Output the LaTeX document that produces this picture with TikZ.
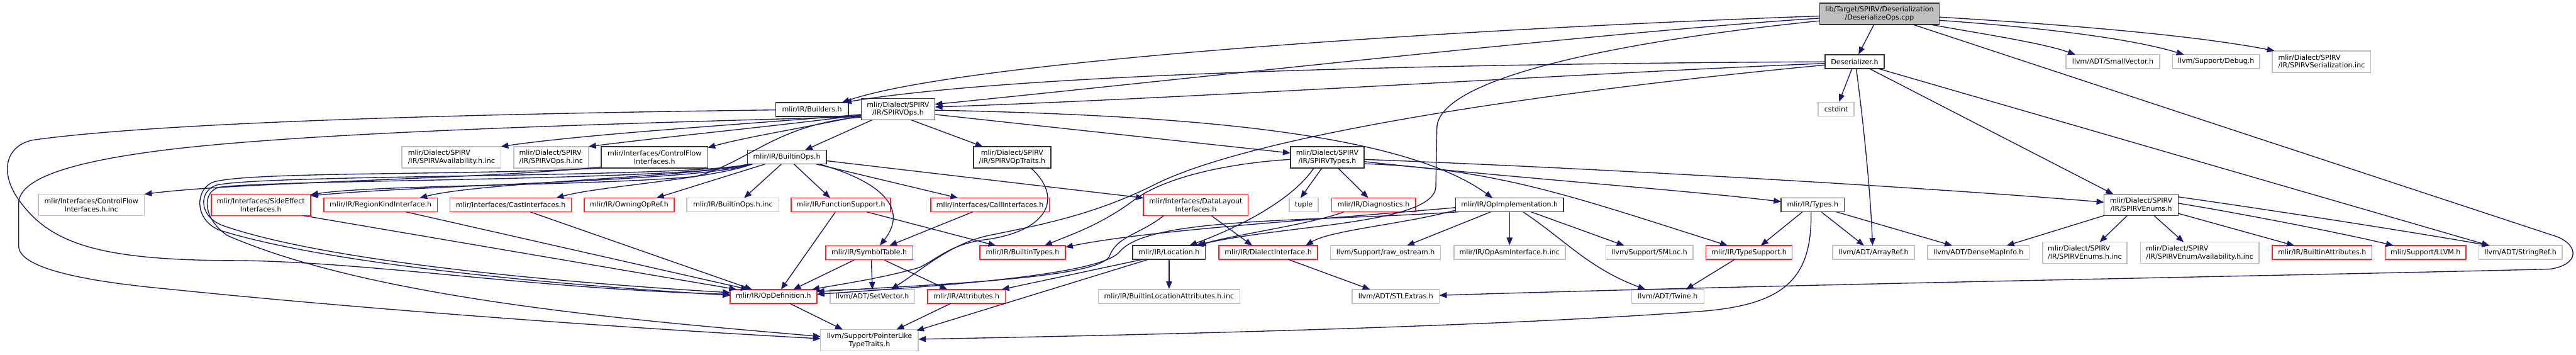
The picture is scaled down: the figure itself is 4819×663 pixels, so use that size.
\documentclass[tikz,border=0pt]{standalone}
\usepackage{fontspec}
\usetikzlibrary{arrows.meta,calc}
\newfontfamily\dvsans{DejaVu Sans}
\newcommand\graphfont{\dvsans\fontsize{13pt}{15pt}\selectfont}
\definecolor{edgeblue}{HTML}{191970}
\definecolor{nodered}{HTML}{FF2020}
\definecolor{nodegray}{HTML}{BFBFBF}
\tikzset{
  box/.style={rectangle, inner sep=0pt, align=center, font=\graphfont, line width=1.8pt, text=black},
  blk/.style={box, draw=black!80},
  rd/.style={box, draw=nodered},
  gr/.style={box, draw=nodegray},
  rootbox/.style={box, draw=black!80, fill=nodegray},
  lft/.style={align=left},
  e/.style={draw=edgeblue, line width=1.6pt, -{Triangle[length=14pt,width=11pt]}},
}
\begin{document}
\begin{tikzpicture}[x=1pt,y=-1pt]
\fill[white] (0,0) rectangle (4819,663);
\useasboundingbox (0,0) rectangle (4819,663);

% ---------- nodes ----------
\node[rootbox, minimum width=224pt, minimum height=40pt] (A) at (3516,26) {lib/Target/SPIRV/Deserialization\\/DeserializeOps.cpp};
\node[blk, minimum width=111pt, minimum height=26pt] (Ds) at (3469.5,115.5) {Deserializer.h};
\node[gr, minimum width=175pt, minimum height=26pt] (SV) at (3952.5,115) {llvm/ADT/SmallVector.h};
\node[gr, minimum width=163pt, minimum height=26pt] (Dbg) at (4145.5,115) {llvm/Support/Debug.h};
\node[gr, lft, minimum width=184pt, minimum height=40pt] (Ser) at (4343,115) {mlir/Dialect/SPIRV\\/IR/SPIRVSerialization.inc};
\node[gr, minimum width=67pt, minimum height=26pt] (Cst) at (3435,204) {cstdint};
\node[blk, minimum width=136pt, minimum height=26pt] (Bld) at (1519,204.5) {mlir/IR/Builders.h};
\node[blk, minimum width=138pt, minimum height=40pt] (B) at (1680,204) {mlir/Dialect/SPIRV\\/IR/SPIRVOps.h};

\node[gr, lft, minimum width=185pt, minimum height=40pt] (Av) at (844.5,294) {mlir/Dialect/SPIRV\\/IR/SPIRVAvailability.h.inc};
\node[gr, lft, minimum width=140pt, minimum height=40pt] (OpsInc) at (1031,294) {mlir/Dialect/SPIRV\\/IR/SPIRVOps.h.inc};
\node[blk, minimum width=199pt, minimum height=40pt] (CF) at (1224.5,294) {mlir/Interfaces/ControlFlow\\Interfaces.h};
\node[blk, minimum width=148pt, minimum height=26pt] (C) at (1472,293.5) {mlir/IR/BuiltinOps.h};
\node[blk, minimum width=145pt, minimum height=40pt] (OT) at (1893.5,294) {mlir/Dialect/SPIRV\\/IR/SPIRVOpTraits.h};
\node[blk, minimum width=138pt, minimum height=40pt] (T) at (2483,294) {mlir/Dialect/SPIRV\\/IR/SPIRVTypes.h};

\node[gr, minimum width=198pt, minimum height=40pt] (CFinc) at (171,383) {mlir/Interfaces/ControlFlow\\Interfaces.h.inc};
\node[rd, minimum width=186pt, minimum height=40pt] (SE) at (488,383) {mlir/Interfaces/SideEffect\\Interfaces.h};
\node[rd, minimum width=212pt, minimum height=26pt] (RK) at (712,383) {mlir/IR/RegionKindInterface.h};
\node[rd, minimum width=227pt, minimum height=26pt] (Cast) at (955.5,383) {mlir/Interfaces/CastInterfaces.h};
\node[rd, minimum width=168pt, minimum height=26pt] (Own) at (1177,383) {mlir/IR/OwningOpRef.h};
\node[gr, minimum width=172pt, minimum height=26pt] (BOinc) at (1371,383) {mlir/IR/BuiltinOps.h.inc};
\node[rd, minimum width=186pt, minimum height=26pt] (FS) at (1573,383) {mlir/IR/FunctionSupport.h};
\node[rd, minimum width=222pt, minimum height=26pt] (Call) at (1852,383) {mlir/Interfaces/CallInterfaces.h};
\node[rd, minimum width=196pt, minimum height=40pt] (DL) at (2237,383) {mlir/Interfaces/DataLayout\\Interfaces.h};
\node[gr, minimum width=54pt, minimum height=26pt] (Tup) at (2439,383) {tuple};
\node[rd, minimum width=157pt, minimum height=26pt] (Diag) at (2569.5,383) {mlir/IR/Diagnostics.h};
\node[blk, minimum width=202pt, minimum height=26pt] (E) at (2824,383) {mlir/IR/OpImplementation.h};
\node[blk, minimum width=118pt, minimum height=26pt] (Ty) at (3391,383) {mlir/IR/Types.h};
\node[blk, minimum width=139pt, minimum height=40pt] (En) at (4005.5,383) {mlir/Dialect/SPIRV\\/IR/SPIRVEnums.h};

\node[rd, minimum width=163pt, minimum height=26pt] (ST) at (1626,472.5) {mlir/IR/SymbolTable.h};
\node[rd, minimum width=160pt, minimum height=26pt] (BT) at (1913,472) {mlir/IR/BuiltinTypes.h};
\node[blk, minimum width=136pt, minimum height=26pt] (Loc) at (2187,472) {mlir/IR/Location.h};
\node[rd, minimum width=185pt, minimum height=26pt] (DI) at (2372.5,472) {mlir/IR/DialectInterface.h};
\node[gr, minimum width=206pt, minimum height=26pt] (Raw) at (2592,472) {llvm/Support/raw\_ostream.h};
\node[gr, minimum width=208pt, minimum height=26pt] (Asm) at (2824,472) {mlir/IR/OpAsmInterface.h.inc};
\node[gr, minimum width=163pt, minimum height=26pt] (SM) at (3085.5,472) {llvm/Support/SMLoc.h};
\node[rd, minimum width=161pt, minimum height=26pt] (TS) at (3272,472) {mlir/IR/TypeSupport.h};
\node[gr, minimum width=153pt, minimum height=26pt] (AR) at (3505,472) {llvm/ADT/ArrayRef.h};
\node[gr, minimum width=190pt, minimum height=26pt] (DM) at (3701,472) {llvm/ADT/DenseMapInfo.h};
\node[gr, lft, minimum width=158pt, minimum height=40pt] (EnInc) at (3900,472.5) {mlir/Dialect/SPIRV\\/IR/SPIRVEnums.h.inc};
\node[gr, lft, minimum width=222pt, minimum height=40pt] (EnAv) at (4115,472.5) {mlir/Dialect/SPIRV\\/IR/SPIRVEnumAvailability.h.inc};
\node[rd, minimum width=186pt, minimum height=26pt] (BA) at (4344,472) {mlir/IR/BuiltinAttributes.h};
\node[rd, minimum width=151pt, minimum height=26pt] (LLVM) at (4537.5,472) {mlir/Support/LLVM.h};
\node[gr, minimum width=156pt, minimum height=26pt] (SR) at (4715,472) {llvm/ADT/StringRef.h};

\node[rd, minimum width=162pt, minimum height=26pt] (OD) at (1447,554) {mlir/IR/OpDefinition.h};
\node[gr, minimum width=158pt, minimum height=26pt] (SetV) at (1632,554) {llvm/ADT/SetVector.h};
\node[rd, minimum width=145pt, minimum height=26pt] (Attr) at (1808,554) {mlir/IR/Attributes.h};
\node[gr, minimum width=265pt, minimum height=26pt] (BLA) at (2187,554) {mlir/IR/BuiltinLocationAttributes.h.inc};
\node[gr, minimum width=163pt, minimum height=26pt] (STL) at (2611,554) {llvm/ADT/STLExtras.h};
\node[gr, minimum width=135pt, minimum height=26pt] (Tw) at (3120,554) {llvm/ADT/Twine.h};

\node[gr, minimum width=183pt, minimum height=40pt] (PL) at (1626.5,636) {llvm/Support/PointerLike\\TypeTraits.h};

% ---------- edges ----------
% DeserializeOps.cpp
\draw[e] (A) -- (Ds);
\draw[e] ($(A)+(-112,4)$) .. controls (2700,55) and (1800,115) .. ($(Bld)+(56,-13)$);
\draw[e] ($(A)+(-112,8)$) .. controls (3000,60) and (2200,150) .. ($(B)+(69,-9)$);
\draw[e] ($(A)+(-112,13)$) .. controls (3000,80) and (2688,150) .. (2688,240) -- (2686,350) .. controls (2680,420) and (2400,420) .. ($(Loc)+(50,-13)$);
\draw[e] ($(A)+(96,20)$) .. controls (3700,62) and (3820,80) .. ($(SV)+(-70,-13)$);
\draw[e] ($(A)+(112,12)$) .. controls (3800,50) and (3980,70) .. ($(Dbg)+(-60,-13)$);
\draw[e] ($(A)+(112,6)$) .. controls (3850,45) and (4100,65) .. ($(Ser)+(-88,-20)$);
\draw[e] ($(A)+(63,20)$) -- (4785,443) .. controls (4825,460) and (4825,495) .. (4770,503) .. controls (4300,515) and (3400,530) .. ($(STL)+(81.5,-2)$);

% Deserializer.h
\draw[e] ($(Ds)+(-55.5,0)$) .. controls (2900,118) and (1950,130) .. ($(Bld)+(60,-13)$);
\draw[e] ($(Ds)+(-55.5,3)$) .. controls (3000,135) and (2200,185) .. ($(B)+(69,-4)$);
\draw[e] ($(Ds)+(-55.5,6)$) .. controls (2900,170) and (2350,250) .. (2160,345) .. controls (2050,400) and (1950,420) .. (1850,440) .. controls (1780,455) and (1730,500) .. ($(SetV)+(35,-13)$);
\draw[e] (Ds) -- (Cst);
\draw[e] ($(Ds)+(3,13)$) .. controls (3490,260) and (3500,380) .. ($(AR)+(-2,-13)$);
\draw[e] ($(Ds)+(28,13)$) -- ($(En)+(-52,-20)$);
\draw[e] ($(Ds)+(45,13)$) -- ($(SR)+(-58,-13)$);

% Builders.h
\draw[e] ($(Bld)+(-68,1)$) .. controls (700,215) and (250,235) .. (60,262) .. controls (5,275) and (0,330) .. (40,380) .. controls (100,460) and (200,487) .. (446,487) .. controls (700,490) and (1000,540) .. ($(OD)+(-81,-4)$);

% SPIRVOps.h
\draw[e] ($(B)+(-69,10)$) .. controls (1400,232) and (1100,250) .. ($(Av)+(92.5,-20)$);
\draw[e] ($(B)+(-69,11)$) .. controls (1450,236) and (1250,255) .. ($(OpsInc)+(70,-20)$);
\draw[e] ($(B)+(-69,12)$) .. controls (1500,240) and (1400,255) .. ($(CF)+(99.5,-18)$);
\draw[e] ($(B)+(-48,20)$) -- ($(C)+(34,-13)$);
\draw[e] ($(B)+(24,20)$) -- ($(OT)+(-55,-20)$);
\draw[e] ($(B)+(69,10)$) -- ($(T)+(-69,-8)$);
\draw[e] ($(B)+(69,2)$) .. controls (2200,215) and (2620,245) .. ($(E)+(-32,-13)$);
\draw[e] ($(B)+(-69,15)$) .. controls (1450,232) and (1400,305) .. (1300,330) .. controls (1100,348) and (700,345) .. ($(SE)+(93,-19)$);
\draw[e] ($(B)+(-69,14)$) .. controls (1200,230) and (600,245) .. (312,280) .. controls (150,300) and (35,330) .. (35,380) -- (35,460) .. controls (35,500) and (150,525) .. (312,540) .. controls (700,580) and (1200,615) .. ($(PL)+(-91.5,-3)$);

% ControlFlowInterfaces.h
\draw[e] ($(CF)+(-99.5,18)$) .. controls (900,335) and (450,340) .. ($(CFinc)+(99,-20)$);
\draw[e] ($(CF)+(-99.5,20)$) .. controls (900,328) and (470,320) .. (400,340) .. controls (365,352) and (362,410) .. (410,430) .. controls (600,490) and (1000,530) .. ($(OD)+(-81,-2)$);

% BuiltinOps.h
\draw[e] ($(C)+(-72,13)$) .. controls (1320,330) and (900,340) .. ($(RK)+(73,-13)$);
\draw[e] ($(C)+(-64,13)$) .. controls (1330,335) and (1120,348) .. ($(Cast)+(85,-13)$);
\draw[e] ($(C)+(-40,13)$) -- ($(Own)+(51,-13)$);
\draw[e] ($(C)+(-10,13)$) -- ($(BOinc)+(21,-13)$);
\draw[e] ($(C)+(13,13)$) -- ($(FS)+(-20,-13)$);
\draw[e] ($(C)+(54,13)$) -- ($(Call)+(-60,-13)$);
\draw[e] ($(C)+(74,7)$) -- ($(DL)+(-98,-13)$);
\draw[e] ($(C)+(60,13)$) .. controls (1650,340) and (1700,390) .. ($(ST)+(20,-13.5)$);
\draw[e] ($(C)+(-68,13)$) .. controls (1330,338) and (800,345) .. ($(SE)+(93,-17)$);
\draw[e] ($(C)+(-70,13)$) .. controls (1300,333) and (500,325) .. (405,346) .. controls (372,356) and (370,405) .. (418,422) .. controls (600,485) and (1000,525) .. ($(OD)+(-81,-7)$);
\draw[e] ($(C)+(-66,13)$) .. controls (1300,338) and (520,335) .. (410,350) .. controls (378,358) and (378,408) .. (425,440) .. controls (700,560) and (1200,600) .. ($(PL)+(-91.5,-7)$);

% second row into OpDefinition etc.
\draw[e] ($(SE)+(79,20)$) -- ($(OD)+(-69,-13)$);
\draw[e] ($(RK)+(47,13)$) -- ($(OD)+(-47,-13)$);
\draw[e] ($(Cast)+(36,13)$) -- ($(OD)+(-40,-13)$);
\draw[e] ($(FS)+(-10,13)$) -- ($(OD)+(14,-13)$);
\draw[e] ($(FS)+(48,13)$) -- ($(BT)+(-50,-13)$);
\draw[e] ($(Call)+(-32,13)$) -- ($(ST)+(38,-13.5)$);
\draw[e] ($(ST)+(-28,13.5)$) -- ($(OD)+(37,-13)$);
\draw[e] ($(ST)+(4,13.5)$) -- ($(SetV)+(0,-13)$);
\draw[e] ($(ST)+(28,13.5)$) -- ($(Attr)+(-36,-13)$);
\draw[e] ($(OT)+(35,20)$) .. controls (1990,370) and (1960,430) .. (1850,447) .. controls (1780,455) and (1760,480) .. (1720,500) .. controls (1650,520) and (1580,530) .. ($(OD)+(72,-13)$);
\draw[e] ($(DL)+(29,20)$) -- ($(DI)+(-30,-13)$);
\draw[e] ($(DL)+(-60,20)$) .. controls (2130,440) and (2090,440) .. (2075,480) .. controls (2050,520) and (1750,532) .. ($(OD)+(81,-9)$);

% SPIRVTypes.h
\draw[e] ($(T)+(-69,4)$) .. controls (2300,305) and (2180,330) .. (2120,375) .. controls (2060,420) and (2000,440) .. ($(BT)+(41,-13)$);
\draw[e] ($(T)+(-25,20)$) .. controls (2420,370) and (2330,420) .. ($(Loc)+(38,-13)$);
\draw[e] ($(T)+(-10,20)$) -- ($(Tup)+(-6,-13)$);
\draw[e] ($(T)+(20,20)$) -- ($(Diag)+(-10,-13)$);
\draw[e] ($(T)+(69,8)$) .. controls (2800,330) and (3150,355) .. ($(Ty)+(-59,-6)$);
\draw[e] ($(T)+(69,12)$) .. controls (2800,315) and (2950,370) .. ($(TS)+(-40,-13)$);
\draw[e] ($(T)+(69,4)$) .. controls (3000,315) and (3600,350) .. ($(En)+(-69.5,-5)$);
\draw[e] ($(Diag)+(-55,13)$) .. controls (2450,420) and (2300,440) .. ($(Loc)+(55,-13)$);

% OpImplementation.h
\draw[e] ($(E)+(-95,13)$) .. controls (2450,415) and (2150,405) .. (2095,470) .. controls (2060,515) and (1750,535) .. ($(OD)+(81,-4)$);
\draw[e] ($(E)+(-101,5)$) .. controls (2450,412) and (2150,430) .. ($(BT)+(80,-10)$);
\draw[e] ($(E)+(-101,10)$) .. controls (2620,420) and (2490,430) .. ($(DI)+(70,-13)$);
\draw[e] ($(E)+(-35,13)$) -- ($(Raw)+(40,-13)$);
\draw[e] (E) -- (Asm);
\draw[e] ($(E)+(40,13)$) -- ($(SM)+(-47,-13)$);
\draw[e] ($(E)+(25,13)$) .. controls (2930,450) and (2970,500) .. ($(Tw)+(-42,-13)$);

% Types.h
\draw[e] ($(Ty)+(-19,13)$) -- ($(TS)+(22,-13)$);
\draw[e] ($(Ty)+(16,13)$) -- ($(AR)+(-18,-13)$);
\draw[e] ($(Ty)+(44,13)$) -- ($(DM)+(-49,-13)$);
\draw[e] ($(Ty)+(-3,13)$) .. controls (3390,520) and (3340,570) .. (3180,582) .. controls (2800,610) and (2200,625) .. ($(PL)+(91.5,-2)$);

% third row
\draw[e] ($(TS)+(-27,13)$) -- ($(Tw)+(34,-13)$);
\draw[e] ($(DI)+(37.5,13)$) -- ($(STL)+(-48,-13)$);
\draw[e] ($(Loc)+(-50,13)$) -- ($(Attr)+(66,-13)$);
\draw[e] ($(Loc)+(-39,13)$) -- ($(PL)+(88,-18)$);
\draw[e] (Loc) -- (BLA);
\draw[e] ($(Attr)+(-29,13)$) -- ($(PL)+(50.5,-20)$);
\draw[e] ($(OD)+(30,13)$) -- ($(PL)+(-50,-20)$);

% SPIRVEnums.h
\draw[e] ($(En)+(-69.5,20)$) -- ($(DM)+(53,-13)$);
\draw[e] ($(En)+(-26,20)$) -- ($(EnInc)+(28,-20)$);
\draw[e] ($(En)+(24,20)$) -- ($(EnAv)+(-30,-20)$);
\draw[e] ($(En)+(69.5,16)$) -- ($(BA)+(-52,-13)$);
\draw[e] ($(En)+(69.5,-3)$) .. controls (4200,400) and (4400,440) .. ($(LLVM)+(-60,-13)$);
\draw[e] ($(En)+(69.5,-15)$) .. controls (4300,400) and (4550,440) .. ($(SR)+(-58,-13)$);
\end{tikzpicture}
\end{document}
